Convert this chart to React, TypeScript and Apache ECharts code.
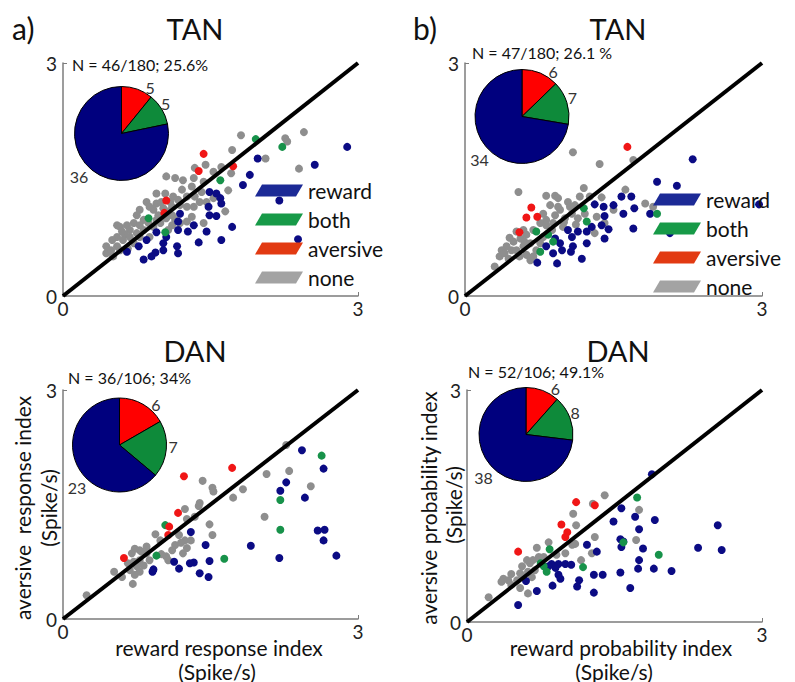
import React, { useEffect, useRef } from "react";
import * as echarts from "echarts";

const FONT = "Lato, 'Open Sans', sans-serif";

const categories = ["reward", "both", "aversive", "none"];
const tickValues = [0, 3];

// pie counts: aversive, both, reward
const pieTanA = [5, 5, 36];
const pieTanB = [6, 7, 34];
const pieDanA = [6, 7, 23];
const pieDanB = [6, 8, 38];

const nTextTanA = "N = 46/180; 25.6%";
const nTextTanB = "N = 47/180; 26.1 %";
const nTextDanA = "N = 36/106; 34%";
const nTextDanB = "N = 52/106; 49.1%";

// ---------- a) TAN ----------
const tanA_reward = [[2.89,1.92],[2.56,1.69],[1.98,1.77],[1.90,1.56],[1.83,1.43],[2.20,1.23],[2.39,0.73],[1.49,1.34],[1.56,1.32],[1.60,1.26],[1.61,1.19],[1.49,1.04],[1.56,1.03],[1.72,0.89],[1.61,0.72],[1.46,0.83],[1.38,0.69],[1.33,0.91],[1.27,0.83],[1.19,1.06],[1.17,0.96],[1.16,0.64],[1.17,0.55],[1.02,0.68],[1.02,0.59],[0.95,0.82],[0.94,0.56],[0.90,0.51],[0.82,0.47],[0.85,0.72],[0.77,0.64],[0.65,0.57],[1.17,0.85],[1.05,0.76],[1.48,1.15]];
const tanA_both = [[1.96,2.02],[2.23,1.92],[1.60,1.49],[0.87,1.00],[1.04,0.82]];
const tanA_aversive = [[1.43,1.83],[1.38,1.61],[1.73,1.67],[1.05,1.23],[1.03,1.07]];
const tanA_none = [[1.81,2.07],[2.45,2.11],[2.26,2.03],[2.28,1.99],[2.40,1.64],[2.06,1.77],[1.72,1.88],[1.45,1.69],[1.34,1.65],[1.61,1.66],[1.71,1.58],[1.33,1.52],[1.05,1.54],[1.14,1.52],[1.22,1.49],[1.31,1.41],[1.21,1.37],[1.43,1.47],[1.04,1.32],[1.12,1.28],[1.26,1.28],[0.85,1.21],[0.95,1.19],[1.11,1.15],[1.19,1.17],[1.39,1.21],[1.33,1.15],[1.41,1.34],[1.68,1.36],[1.65,1.09],[1.43,0.94],[1.02,1.13],[0.92,1.11],[0.97,1.04],[1.11,1.04],[1.14,0.98],[1.05,1.00],[1.11,0.91],[1.19,0.94],[1.26,0.96],[1.31,1.02],[0.78,1.11],[0.75,1.04],[0.82,0.98],[0.72,0.94],[0.65,0.91],[0.58,0.89],[0.55,0.91],[0.68,0.85],[0.75,0.81],[0.82,0.85],[0.92,0.89],[0.95,0.98],[0.63,0.79],[0.55,0.76],[0.44,0.64],[0.44,0.55],[0.51,0.51],[0.58,0.59],[0.78,0.76],[0.88,0.76],[0.99,0.94],[1.07,0.85],[1.34,1.28],[1.46,1.21],[0.61,0.72],[0.72,0.68],[0.55,0.64],[0.66,0.61],[0.49,0.59],[0.88,1.15],[1.00,1.21],[1.09,1.21],[1.17,1.24],[1.26,1.15],[1.53,1.26],[1.07,1.09],[0.95,1.32],[0.78,0.91],[0.87,0.94],[0.68,0.76],[0.60,0.83],[0.50,0.72],[1.53,1.60]];

// ---------- b) TAN ----------
const tanB_reward = [[2.97,1.18],[2.30,1.76],[1.94,1.47],[2.14,1.42],[1.58,1.28],[1.68,1.28],[1.50,1.17],[1.60,1.06],[1.71,1.13],[1.87,1.06],[1.31,1.18],[1.40,1.15],[1.41,1.03],[1.28,0.89],[1.38,0.91],[1.45,0.86],[1.41,0.74],[1.70,0.87],[1.23,0.68],[1.18,0.48],[1.08,0.76],[1.09,0.64],[1.07,0.57],[1.04,0.85],[0.98,0.59],[0.91,0.74],[0.89,0.55],[0.93,0.42],[0.82,0.64],[0.73,0.43],[2.07,0.81],[1.14,0.83],[0.96,0.68],[1.23,0.83]];
const tanB_both = [[1.20,1.13],[1.94,1.06],[0.72,0.83],[0.84,0.79],[0.76,0.57],[0.89,0.70],[1.23,0.96]];
const tanB_aversive = [[1.64,1.92],[0.67,1.14],[0.62,1.01],[0.73,1.02],[0.55,0.82]];
const tanB_none = [[1.09,1.85],[1.36,1.70],[1.70,1.75],[0.54,1.34],[1.20,1.39],[1.62,1.37],[1.38,1.27],[0.82,1.29],[0.91,1.29],[0.94,1.26],[1.04,1.21],[1.11,1.17],[0.86,1.17],[0.96,1.11],[1.08,1.06],[1.01,1.00],[1.14,1.00],[0.82,0.98],[0.76,0.94],[0.69,0.85],[0.62,0.79],[0.56,0.74],[0.49,0.70],[0.42,0.64],[0.37,0.59],[0.35,0.51],[0.30,0.38],[0.44,0.48],[0.52,0.59],[0.59,0.64],[0.66,0.68],[0.62,0.53],[0.69,0.51],[0.76,0.68],[0.82,0.91],[0.89,0.94],[0.99,0.89],[1.33,1.02],[1.41,0.94],[1.31,0.81],[1.50,1.11],[1.90,1.15],[1.82,1.19],[1.26,1.28],[1.16,1.28],[1.21,1.06],[1.06,1.15],[0.94,1.15],[0.79,1.06],[0.59,0.85],[0.52,0.83],[0.47,0.59],[0.40,0.55],[0.55,0.51],[0.66,0.46],[0.72,0.59],[0.88,0.85],[0.79,0.76],[0.91,1.04],[0.45,0.75],[0.60,0.70],[1.00,0.95],[1.12,0.92]];

// ---------- a) DAN ----------
const danA_reward = [[2.43,2.21],[2.65,1.97],[2.27,1.79],[2.21,1.68],[2.46,1.59],[2.59,1.16],[2.66,1.17],[2.65,1.03],[2.78,0.83],[2.20,0.80],[1.91,0.96],[1.30,1.14],[1.45,0.97],[1.49,0.76],[1.33,0.74],[1.29,0.73],[1.18,0.66],[1.39,0.60],[1.48,0.55],[1.13,0.75],[0.92,0.65],[0.91,0.62]];
const danA_both = [[2.63,2.14],[2.21,1.56],[2.21,1.17],[1.64,0.79],[1.04,1.23],[0.95,0.83]];
const danA_aversive = [[1.72,1.98],[1.23,1.87],[1.17,1.39],[1.08,1.21],[1.07,1.10],[0.62,0.80]];
const danA_none = [[2.27,2.28],[2.07,1.90],[2.30,1.94],[2.52,1.74],[2.05,1.34],[1.83,1.70],[1.73,1.59],[1.53,1.67],[1.52,1.72],[1.42,1.81],[1.24,1.44],[1.39,1.52],[1.38,1.48],[1.34,1.34],[1.49,1.24],[1.52,1.10],[1.26,1.31],[1.24,1.03],[1.30,1.03],[1.18,1.10],[0.94,1.11],[0.99,1.03],[1.05,0.82],[1.07,0.77],[1.11,0.90],[1.22,0.86],[1.26,0.93],[1.14,0.97],[0.85,0.95],[0.78,0.90],[0.73,0.92],[0.70,0.86],[0.80,0.88],[0.85,0.86],[0.72,0.75],[0.66,0.73],[0.75,0.69],[0.68,0.64],[0.78,0.62],[0.73,0.58],[0.52,0.62],[0.60,0.55],[0.71,0.46],[0.24,0.31],[0.88,0.77],[0.78,0.77],[0.82,0.70],[1.00,0.85],[1.20,1.00]];

// ---------- b) DAN ----------
const danB_reward = [[1.88,1.91],[1.57,1.47],[1.71,1.36],[1.91,1.32],[1.49,1.30],[1.75,1.20],[2.55,1.25],[2.35,0.96],[2.59,0.93],[1.79,0.95],[1.75,0.80],[1.74,0.69],[1.90,0.69],[2.08,0.66],[1.56,1.07],[1.59,1.04],[1.57,0.97],[1.22,1.00],[1.32,0.91],[1.56,0.64],[1.66,0.44],[1.29,0.61],[1.38,0.61],[1.29,0.38],[1.14,0.54],[1.12,0.46],[0.86,0.75],[0.93,0.75],[1.00,0.75],[1.06,0.74],[0.93,0.61],[0.95,0.56],[0.87,0.47],[0.71,0.40],[0.60,0.53],[0.52,0.22],[0.90,0.70],[0.83,0.72]];
const danB_both = [[1.73,1.61],[1.59,1.03],[1.95,0.87],[1.18,0.71],[0.84,0.94],[0.78,0.72],[0.81,0.65],[0.75,0.76]];
const danB_aversive = [[1.11,1.55],[1.30,1.51],[0.96,1.26],[1.02,1.16],[1.00,1.10],[0.52,0.91]];
const danB_none = [[1.40,1.64],[1.28,1.53],[1.75,1.45],[1.08,1.40],[1.11,1.25],[1.30,1.10],[1.72,1.06],[1.07,1.00],[1.10,1.01],[0.83,1.03],[0.71,0.96],[1.00,0.89],[1.27,0.89],[1.16,0.80],[0.91,0.87],[0.73,0.84],[0.67,0.80],[0.64,0.76],[0.56,0.72],[0.54,0.63],[0.62,0.65],[0.69,0.67],[0.37,0.56],[0.35,0.52],[0.42,0.54],[0.45,0.48],[0.54,0.44],[0.62,0.37],[0.61,0.80],[0.74,0.80],[0.51,0.54],[0.57,0.59],[0.78,0.84],[0.22,0.32],[0.45,0.62],[0.66,0.58]];

const diagonal = [[0, 0], [3, 3]];

const pointColor: Record<string, string> = {
  reward: "#0b0b84",
  both: "#17924a",
  aversive: "#f01616",
  none: "#8e8e8e",
};
const legendColor: Record<string, string> = {
  reward: "#1c2a96",
  both: "#179a48",
  aversive: "#e23a12",
  none: "#a3a3a3",
};
const pieColors = ["#ff0000", "#0e8a3a", "#00007e"];
const pieNames = ["aversive cells", "both cells", "reward cells"];

const panels = [
  { reward: tanA_reward, both: tanA_both, aversive: tanA_aversive, none: tanA_none, pie: pieTanA },
  { reward: tanB_reward, both: tanB_both, aversive: tanB_aversive, none: tanB_none, pie: pieTanB },
  { reward: danA_reward, both: danA_both, aversive: danA_aversive, none: danA_none, pie: pieDanA },
  { reward: danB_reward, both: danB_both, aversive: danB_aversive, none: danB_none, pie: pieDanB },
];

// layout (pixels)
const grids = [
  { left: 63, top: 63, width: 295, height: 233 },
  { left: 465, top: 63, width: 297, height: 233 },
  { left: 63, top: 390, width: 295, height: 229 },
  { left: 467, top: 390, width: 295, height: 232 },
];
const pieCenters = [[121.5, 133.5], [522, 116.5], [119.5, 445], [526, 434.5]];
const PIE_R = 47;
// label placement for pie slices (aversive, both, reward): angle shift in degrees and radial factor
const labelAngleShift = [12, -3];
const rewardLabelAngle = 225;
const labelRadial = [1.16, 1.14, 1.28];

export default function App() {
  const ref = useRef<HTMLDivElement>(null);
  useEffect(() => {
    if (!ref.current) return;
    const chart = echarts.init(ref.current, null, { renderer: "svg" });
    const axisColor = "#7c7c7c";
    const xAxis = grids.map((_, i) => ({
      gridIndex: i,
      type: "value",
      min: tickValues[0],
      max: tickValues[1],
      interval: tickValues[1] - tickValues[0],
      axisLine: { show: true, lineStyle: { color: axisColor, width: 1.5 } },
      axisTick: { show: true, inside: true, length: 4, lineStyle: { color: axisColor } },
      splitLine: { show: false },
      axisLabel: { fontSize: 19, color: "#222", margin: 3, fontFamily: FONT },
    }));
    const yAxis = grids.map((_, i) => ({
      gridIndex: i,
      type: "value",
      min: tickValues[0],
      max: tickValues[1],
      interval: tickValues[1] - tickValues[0],
      axisLine: { show: true, lineStyle: { color: axisColor, width: 1.5 } },
      axisTick: { show: true, inside: true, length: 4, lineStyle: { color: axisColor } },
      splitLine: { show: false },
      axisLabel: { fontSize: 19, color: "#222", margin: 6, fontFamily: FONT },
    }));

    const series: any[] = [];
    panels.forEach((p: any, i) => {
      ["none", "reward", "both", "aversive"].forEach((c) => {
        series.push({
          type: "scatter",
          name: c,
          xAxisIndex: i,
          yAxisIndex: i,
          data: p[c],
          symbolSize: 8,
          itemStyle: { color: pointColor[c], opacity: 1 },
          z: 2,
          silent: true,
        });
      });
      series.push({
        type: "line",
        name: "unity",
        xAxisIndex: i,
        yAxisIndex: i,
        data: diagonal,
        showSymbol: false,
        symbol: "none",
        lineStyle: { color: "#000", width: 4 },
        z: 3,
        silent: true,
      });
      const vals: number[] = p.pie;
      const total = vals.reduce((a, b) => a + b, 0);
      const [cx, cy] = pieCenters[i];
      series.push({
        type: "pie",
        name: "pie" + i,
        center: pieCenters[i],
        radius: PIE_R,
        startAngle: 90,
        clockwise: true,
        silent: true,
        z: 4,
        data: vals.map((v: number, k: number) => ({
          value: v,
          name: pieNames[k],
          itemStyle: { color: pieColors[k] },
        })),
        itemStyle: { borderColor: "#000", borderWidth: 1 },
        label: {
          show: true,
          position: "outside",
          formatter: "{c}",
          fontSize: 16,
          color: "#333",
          fontFamily: FONT,
        },
        labelLine: { show: false, length: 3, length2: 0 },
        labelLayout: (params: any) => {
          const k = params.dataIndex;
          let before = 0;
          for (let j = 0; j < k; j++) before += vals[j];
          const midDeg = ((before + vals[k] / 2) / total) * 360;
          const deg = k === 2 ? rewardLabelAngle : midDeg + labelAngleShift[k];
          const a = (deg * Math.PI) / 180;
          const d = PIE_R * labelRadial[k];
          return {
            x: cx + d * Math.sin(a),
            y: cy - d * Math.cos(a),
            align: "center",
            verticalAlign: "middle",
          };
        },
        emphasis: { disabled: true },
      });
    });

    const icon = "path://M7,0L48,0L41,12L0,12Z";
    const mkLegend = (left: number, top: number) => ({
      orient: "vertical",
      left,
      top,
      padding: 0,
      itemWidth: 48,
      itemHeight: 12,
      itemGap: 8,
      selectedMode: false,
      textStyle: { fontSize: 21, color: "#111", fontFamily: FONT },
      data: categories.map((n) => ({ name: n, icon, itemStyle: { color: legendColor[n] } })),
    });

    const txt = (text: string, x: number, y: number, fontSize: number, align = "center", rotation = 0) => ({
      type: "text",
      x,
      y,
      rotation,
      silent: true,
      style: {
        text,
        fontSize,
        fontFamily: FONT,
        fill: "#111",
        textAlign: align,
        textVerticalAlign: "middle",
      },
    });
    const R = Math.PI / 2;

    chart.setOption({
      animation: false,
      backgroundColor: "#fff",
      grid: grids.map((g) => ({ ...g, containLabel: false })),
      xAxis,
      yAxis,
      legend: [mkLegend(255, 180), mkLegend(653, 189)],
      series,
      graphic: [
        txt("a)", 12, 28, 30, "left"),
        txt("b)", 413, 28, 30, "left"),
        txt("TAN", 195, 28, 29),
        txt("TAN", 618, 28, 29),
        txt("DAN", 195, 350, 29),
        txt("DAN", 618, 350, 29),
        txt(nTextTanA, 72, 64, 16, "left"),
        txt(nTextTanB, 472, 52, 16, "left"),
        txt(nTextDanA, 68, 377, 16, "left"),
        txt(nTextDanB, 468, 371, 16, "left"),
        txt("reward response index", 219, 647, 21),
        txt("(Spike/s)", 217, 671, 21),
        txt("reward probability index", 621, 647, 21),
        txt("(Spike/s)", 614, 671, 21),
        txt("aversive  response index", 22, 508, 21, "center", R),
        txt("(Spike/s)", 48, 508, 21, "center", R),
        txt("aversive probability index", 428, 508, 21, "center", R),
        txt("(Spike/s)", 453, 505, 21, "center", R),
      ],
    });
    return () => chart.dispose();
  }, []);
  return (
    <div
      ref={ref}
      style={{ position: "fixed", left: 0, top: 0, width: 795, height: 682, background: "#fff" }}
    />
  );
}
